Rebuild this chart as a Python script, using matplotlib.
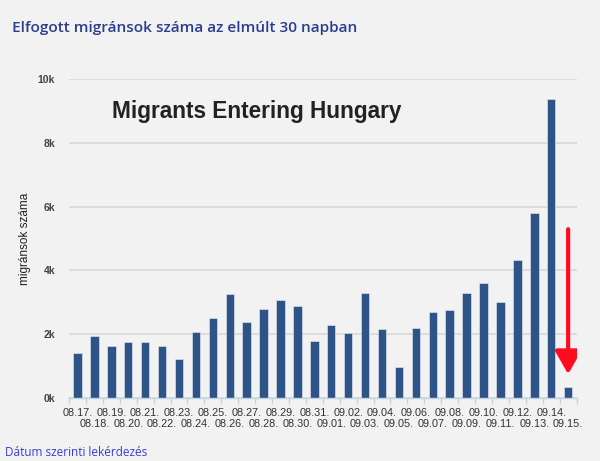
import numpy as np
import matplotlib
from matplotlib import pyplot as plt
from matplotlib.patches import FancyArrowPatch

# daily counts, 08.17 - 09.15
dates = ['08.17.', '08.18.', '08.19.', '08.20.', '08.21.', '08.22.', '08.23.',
         '08.24.', '08.25.', '08.26.', '08.27.', '08.28.', '08.29.', '08.30.',
         '08.31.', '09.01.', '09.02.', '09.03.', '09.04.', '09.05.', '09.06.',
         '09.07.', '09.08.', '09.09.', '09.10.', '09.11.', '09.12.', '09.13.',
         '09.14.', '09.15.']
counts = [1425, 1950, 1625, 1750, 1750, 1625, 1217, 2075, 2505, 3250,
          2390, 2800, 3060, 2893, 1783, 2274, 2044, 3300, 2160, 985,
          2190, 2683, 2746, 3300, 3595, 3010, 4330, 5808, 9371, 336]
yticks = [0, 2000, 4000, 6000, 8000, 10000]
ytick_labels = ['0k', '2k', '4k', '6k', '8k', '10k']

# red arrow pointing at the last day (data coords: top, tip)
arrow_top = 5290
arrow_tip = 750

bg = '#f2f2f2'
bar_color = '#2e5386'

matplotlib.rc('font', family='Liberation Sans')

fig = plt.figure(figsize=(6, 4.61), dpi=100, facecolor=bg)
ax = fig.add_axes([0.115, 0.1367, 0.846, 0.692])
ax.set_facecolor(bg)

x = np.arange(len(counts))
ax.bar(x, counts, width=0.5, color=bar_color, edgecolor='#e8eef6',
       linewidth=0.4, zorder=2)

ax.set_xlim(-0.5, len(counts) - 0.5)
ax.set_ylim(0, 10000)

# y axis
ax.set_yticks(yticks)
ax.set_yticklabels(ytick_labels, fontsize=7.5, color='#444444', fontweight='bold')
ax.tick_params(axis='y', length=0, pad=10)
ax.grid(axis='y', color='#d8d8d8', linewidth=1.2, zorder=0)
ax.set_ylabel('migránsok száma', fontsize=8.5, color='#222222', labelpad=5)

# x axis: tick marks between bars, dates in two alternating rows
ax.set_xticks(np.arange(-0.5, len(counts)))
ax.set_xticklabels([])
ax.tick_params(axis='x', length=4, color='#c3d3e6', width=1)
for i, d in enumerate(dates):
    off = -15 if i % 2 == 0 else -26
    ax.annotate(d, xy=(i, 0), xycoords=('data', 'axes fraction'),
                xytext=(0, off * 0.72), textcoords='offset points',
                ha='center', va='center', fontsize=7.8, color='#333333')

for side in ['top', 'right', 'left']:
    ax.spines[side].set_visible(False)
ax.spines['bottom'].set_color('#c3d3e6')
ax.spines['bottom'].set_linewidth(1)

# chart overlay title
fig.text(111.6 / 600, 1 - 111.7 / 461, 'Migrants Entering Hungary',
         fontsize=16.3, fontweight='bold', color='#222222',
         va='center', ha='left')

arrow = FancyArrowPatch((x[-1], arrow_top), (x[-1], arrow_tip),
                        arrowstyle='-|>,head_length=14,head_width=8',
                        color='#ff0a1e', linewidth=3, shrinkA=0, shrinkB=0,
                        mutation_scale=1, zorder=3)
ax.add_patch(arrow)

# page header / footer
fig.text(0.02, 1 - 28 / 461, 'Elfogott migránsok száma az elmúlt 30 napban',
         fontsize=11.1, fontweight='semibold', family='Open Sans',
         color='#2b3d8f', va='center', ha='left')
fig.text(0.009, 1 - 452 / 461, 'Dátum szerinti lekérdezés',
         fontsize=8.5, family='Open Sans', color='#3b3bd6',
         va='center', ha='left')

plt.savefig('out.png', dpi=100, facecolor=bg)
